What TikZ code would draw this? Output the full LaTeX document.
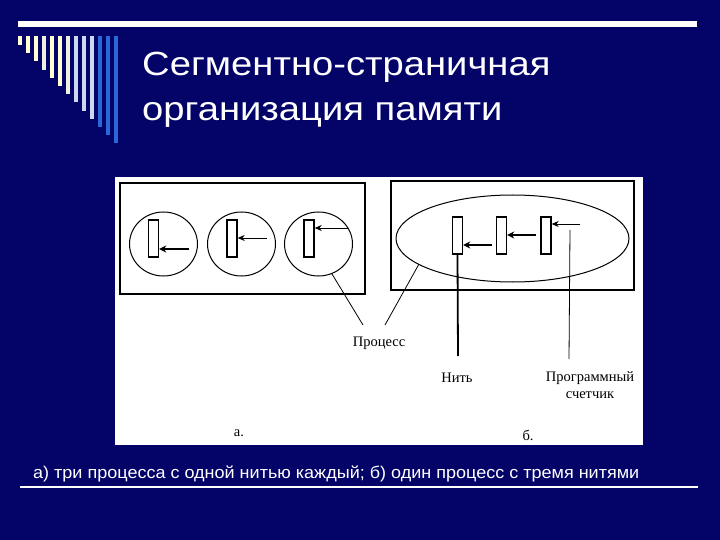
\documentclass[tikz,border=0pt]{standalone}
\usepackage{fontspec}
\setmainfont{Liberation Sans}
\newfontfamily\serifru{Liberation Serif}
\newfontfamily\titlefont[FakeStretch=1.14]{Liberation Sans}
\newfontfamily\capfont[FakeStretch=1.06]{Liberation Sans}
\usetikzlibrary{shapes.geometric,arrows.meta}
\definecolor{navy}{RGB}{3,3,104}
\definecolor{barcream}{RGB}{255,255,210}
\definecolor{barwhite}{RGB}{240,240,225}
\definecolor{barpale}{RGB}{205,215,240}
\definecolor{barblue}{RGB}{40,105,215}
\tikzset{
  thread/.style={draw=black,line width=1.4pt,fill=white,minimum width=10pt,minimum height=37pt,inner sep=0pt},
  proc/.style={draw=black,line width=1pt,ellipse,minimum width=68pt,minimum height=64pt,inner sep=0pt},
  frame/.style={draw=black,line width=1.5pt},
  thin arrow/.style={line width=0.9pt,-{Stealth[length=7pt,width=6pt]}},
  thick arrow/.style={line width=2pt,-{Stealth[length=7pt,width=7pt]}},
  leader/.style={line width=0.8pt},
  lbl/.style={font=\serifru\fontsize{14.5}{16}\selectfont,inner sep=0pt,text=black},
  title/.style={anchor=base west,text=white,inner sep=0pt,font=\titlefont\fontsize{33.5}{38}\selectfont}
}
\begin{document}
\begin{tikzpicture}[x=1pt,y=-1pt]
\fill[navy] (0,0) rectangle (720,540);
\useasboundingbox (0,0) rectangle (720,540);
% decoration
\fill[white] (18,21) rectangle (697,27);
\foreach \i/\c in {0/barcream,1/barcream,2/barcream,3/barwhite,4/barcream,5/barcream,6/barwhite,7/barpale,8/barpale,9/barpale,10/barblue,11/barblue,12/barblue}{
  \fill[\c] ({18+8*\i},36) rectangle ({22+8*\i},{45+8.2*\i});
}
% title
\node[title] (t1) at (142,76) {Сегментно-страничная};
\node[title] (t2) at (142,121) {организация памяти};
% picture area
\fill[white] (115,177) rectangle (643,445);
\draw[frame] (120,183) rectangle (365,294);
\draw[frame] (391,181) rectangle (634,290);
% left: three processes
\node[proc] (p1) at (163.5,244) {};
\node[proc] (p2) at (241.5,244) {};
\node[proc] (p3) at (318.5,244) {};
\node[thread] (a1) at (153.5,238.5) {};
\node[thread] (a2) at (232,238.5) {};
\node[thread] (a3) at (309,238.5) {};
\coordinate (s1) at (189,249);
\coordinate (s2) at (267,238);
\coordinate (s3) at (348,228);
\draw[thick arrow] (s1) -- (a1.east |- s1);
\draw[thin arrow] (s2) -- (a2.east |- s2);
\draw[thin arrow] (s3) -- (a3.east |- s3);
% right: one process
\node[draw=black,line width=1pt,ellipse,minimum width=233pt,minimum height=87pt,inner sep=0pt] (pb) at (512.5,238.5) {};
\node[thread] (b1) at (457.5,235.5) {};
\node[thread] (b2) at (501.5,235.5) {};
\node[thread] (b3) at (546,235.5) {};
\coordinate (r1) at (492,245);
\coordinate (r2) at (536,235);
\coordinate (r3) at (580,224);
\draw[thick arrow] (r1) -- (b1.east |- r1);
\draw[thick arrow] (r2) -- (b2.east |- r2);
\draw[thin arrow] (r3) -- (b3.east |- r3);
% labels
\node[lbl] (lp) at (379,343) {Процесс};
\node[lbl] (ln) at (457,378) {Нить};
\node[lbl,align=center,font=\serifru\fontsize{14.5}{17}\selectfont] (lc) at (590,385) {Программный\\счетчик};
\node[lbl] (la) at (239,433) {а.};
\node[lbl] (lb) at (528,435) {б.};
% leaders
\coordinate (e3) at (332,274);
\coordinate (eb) at (419,264);
\coordinate (lpa) at (363,325);
\coordinate (lpb) at (385,325);
\draw[leader] (e3) -- (lpa);
\draw[leader] (eb) -- (lpb);
\coordinate (nb) at (458,356);
\draw[line width=1.8pt] (b1.south) -- (nb);
\coordinate (ct) at (570,230);
\coordinate (cb) at (569,359);
\draw[leader] (ct) -- (cb);
% caption
\node[anchor=base west,text=white,inner sep=0pt,font=\capfont\fontsize{17}{20}\selectfont] (cap) at (33,478) {а) три процесса с одной нитью каждый; б) один процесс с тремя нитями};
\draw[white,line width=1.3pt] (20,487) -- (698,487);
\end{tikzpicture}
\end{document}
